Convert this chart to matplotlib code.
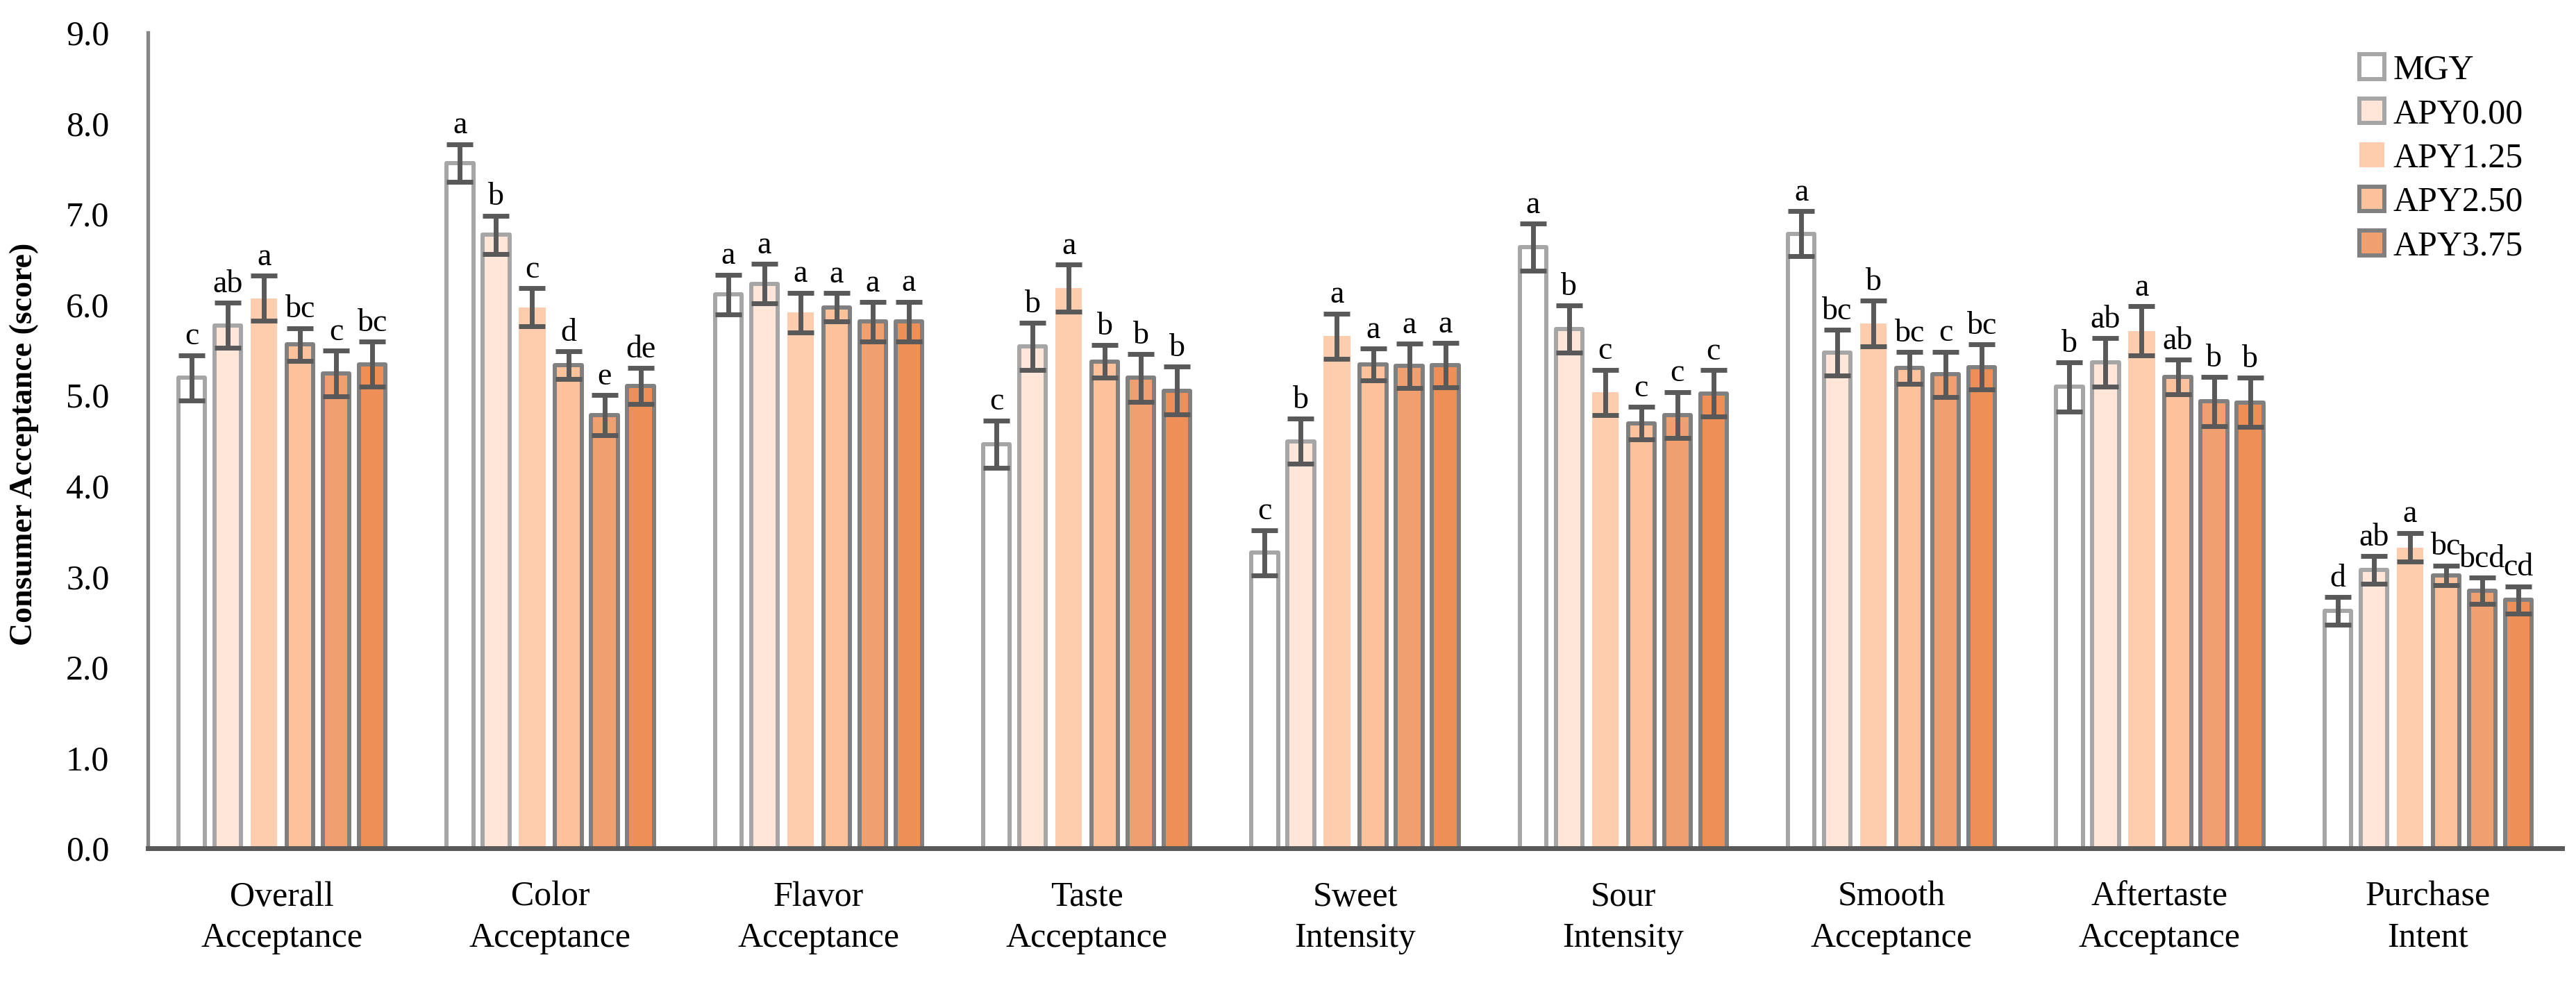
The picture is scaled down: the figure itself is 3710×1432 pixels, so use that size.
import matplotlib
matplotlib.use("Agg")
import matplotlib.pyplot as plt
import numpy as np

categories = ["Overall\nAcceptance", "Color\nAcceptance", "Flavor\nAcceptance", "Taste\nAcceptance",
              "Sweet\nIntensity", "Sour\nIntensity", "Smooth\nAcceptance", "Aftertaste\nAcceptance",
              "Purchase\nIntent"]
series_names = ["MGY", "APY0.00", "APY1.25", "APY2.50", "APY3.75", "_series6"]

mgy     = [5.19, 7.56, 6.11, 4.46, 3.26, 6.63, 6.78, 5.09, 2.62]
apy000  = [5.77, 6.77, 6.23, 5.54, 4.49, 5.73, 5.47, 5.36, 3.07]
apy125  = [6.07, 5.97, 5.91, 6.18, 5.65, 5.03, 5.79, 5.71, 3.32]
apy250  = [5.56, 5.33, 5.97, 5.37, 5.34, 4.69, 5.30, 5.20, 3.01]
apy375  = [5.24, 4.78, 5.81, 5.19, 5.32, 4.78, 5.23, 4.93, 2.84]
series6 = [5.34, 5.10, 5.81, 5.05, 5.33, 5.02, 5.31, 4.92, 2.74]

err_mgy     = [0.25, 0.21, 0.22, 0.26, 0.25, 0.26, 0.25, 0.27, 0.15]
err_apy000  = [0.25, 0.21, 0.22, 0.26, 0.25, 0.26, 0.25, 0.27, 0.155]
err_apy125  = [0.25, 0.21, 0.22, 0.26, 0.25, 0.25, 0.25, 0.27, 0.16]
err_apy250  = [0.18, 0.155, 0.155, 0.18, 0.175, 0.18, 0.175, 0.19, 0.11]
err_apy375  = [0.25, 0.22, 0.215, 0.265, 0.245, 0.255, 0.25, 0.27, 0.145]
err_series6 = [0.25, 0.20, 0.22, 0.265, 0.245, 0.255, 0.25, 0.27, 0.15]

let_mgy     = ["c", "a", "a", "c", "c", "a", "a", "b", "d"]
let_apy000  = ["ab", "b", "a", "b", "b", "b", "bc", "ab", "ab"]
let_apy125  = ["a", "c", "a", "a", "a", "c", "b", "a", "a"]
let_apy250  = ["bc", "d", "a", "b", "a", "c", "bc", "ab", "bc"]
let_apy375  = ["c", "e", "a", "b", "a", "c", "c", "b", "bcd"]
let_series6 = ["bc", "de", "a", "b", "a", "c", "bc", "b", "cd"]

yticks = [0, 1, 2, 3, 4, 5, 6, 7, 8, 9]

values = [mgy, apy000, apy125, apy250, apy375, series6]
errors = [err_mgy, err_apy000, err_apy125, err_apy250, err_apy375, err_series6]
letters = [let_mgy, let_apy000, let_apy125, let_apy250, let_apy375, let_series6]

fills = ["#FFFFFF", "#FFE6D8", "#FECDAD", "#FDC29B", "#F0A070", "#EE8F58"]
edges = ["#A6A6A6", "#A6A6A6", "none", "#808080", "#808080", "#808080"]

plt.rcParams["font.family"] = ["Liberation Serif", "DejaVu Serif"]
fig = plt.figure(figsize=(37.10, 14.32), dpi=100)
ax = fig.add_axes([213/3710, 1 - 1222/1432, (3690-213)/3710, (1222-47)/1432])

x = np.arange(len(categories))
step = 0.1347
width = 0.099
for i, (vals, errs, lets) in enumerate(zip(values, errors, letters)):
    pos = x + (i - 2.5) * step
    ax.bar(pos, vals, width=width, color=fills[i], edgecolor=edges[i],
           linewidth=4.3 if edges[i] != "none" else 0, joinstyle="round",
           label=series_names[i], zorder=2)
    ax.errorbar(pos, vals, yerr=errs, fmt="none", ecolor="#595959",
                elinewidth=5, capsize=13.5, capthick=5, zorder=3)
    for p, v, e, t in zip(pos, vals, errs, lets):
        ax.annotate(t, (p, v + e), xytext=(0, 11), textcoords="offset points",
                    ha="center", va="baseline", fontsize=33, color="black")

ax.set_xlim(-0.5, len(categories) - 0.5)
ax.set_ylim(0, 9)
ax.set_yticks(yticks)
ax.set_yticklabels([f"{t:.1f}" for t in yticks], fontsize=36)
ax.set_xticks(x)
ax.set_xticklabels(categories, fontsize=36, linespacing=1.35)
ax.tick_params(axis="both", length=0)
ax.tick_params(axis="y", pad=40)
ax.tick_params(axis="x", pad=34)
for s in ["top", "right"]:
    ax.spines[s].set_visible(False)
ax.spines["left"].set_color("#868686")
ax.spines["left"].set_linewidth(3.8)
ax.spines["bottom"].set_color("#595959")
ax.spines["bottom"].set_linewidth(5)
ax.spines["bottom"].set_zorder(4)

fig.text(35/3710, 1 - 640/1432, "Consumer Acceptance (score)", rotation=90,
         ha="center", va="center", fontsize=33, fontweight="bold")

handles, labels = ax.get_legend_handles_labels()
leg = ax.legend(handles, labels, loc="upper left", bbox_to_anchor=(3398/3710, 1 - 78/1432),
                bbox_transform=fig.transFigure, frameon=False, fontsize=36,
                handlelength=0.72, handleheight=0.72, handletextpad=0.25,
                labelspacing=0.34, borderpad=0, borderaxespad=0)

fig.savefig("out.png", dpi=100, facecolor="white")
